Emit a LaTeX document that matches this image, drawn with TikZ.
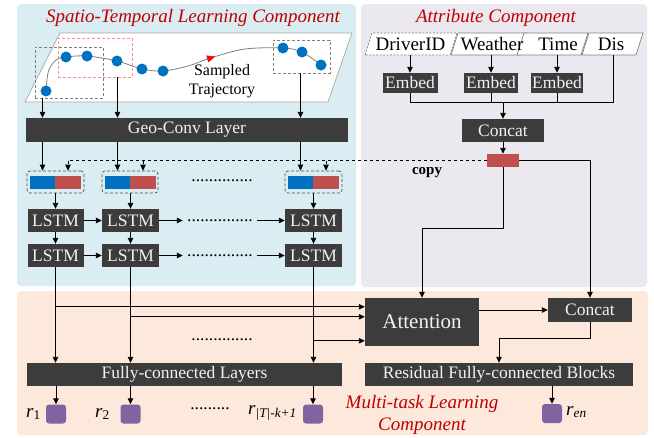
\documentclass[tikz,border=0pt]{standalone}
\usepackage{fontspec}
\setmainfont{Liberation Serif}
\usetikzlibrary{arrows.meta,calc}
\definecolor{bluebg}{HTML}{DAEDF3}
\definecolor{graybg}{HTML}{EBE8F0}
\definecolor{orangebg}{HTML}{FCE9DC}
\definecolor{darkbox}{HTML}{3C3C3C}
\definecolor{tblue}{HTML}{0070C0}
\definecolor{tred}{HTML}{C0504D}
\definecolor{tpurple}{HTML}{8064A2}
\definecolor{ttitle}{HTML}{C00000}
\begin{document}
\begin{tikzpicture}[x=1pt,y=-1pt,
  dbox/.style={fill=darkbox, text=white!95!black, font=\fontsize{17.5}{20}\selectfont, inner sep=0pt, minimum height=23},
  arr/.style={-{Triangle[length=6pt,width=5.5pt]}, line width=0.9pt},
  ln/.style={line width=0.9pt},
  titletxt/.style={text=ttitle, font=\fontsize{19}{22}\selectfont\itshape, inner sep=0pt},
  dot/.style={circle, fill=tblue, inner sep=0pt, minimum size=11},
  gdash/.style={draw=gray, dash pattern=on 3pt off 2pt, line width=0.7pt, inner sep=0pt},
  cell/.style={inner sep=0pt, minimum width=25.5, minimum height=13},
  sq/.style={fill=tpurple, rounded corners=3pt, inner sep=0pt, minimum width=20, minimum height=19},
  rlbl/.style={font=\fontsize{19}{22}\selectfont, inner sep=0pt},
  dots/.style={font=\fontsize{17.5}{20}\selectfont, inner sep=0pt},
  intxt/.style={font=\fontsize{19}{22}\selectfont, inner sep=0pt}
]
\useasboundingbox (0,0) rectangle (654,437);
% panels
\fill[bluebg, rounded corners=4pt] (17,4) rectangle (356,286);
\fill[graybg, rounded corners=4pt] (361,4) rectangle (647,287);
\fill[orangebg, rounded corners=4pt] (17,291) rectangle (648,435);
% titles
\node[titletxt] (t1) at (193,18) {Spatio-Temporal Learning Component};
\node[titletxt] (t2) at (496,18) {Attribute Component};
\node[titletxt, align=center] (t3) at (422,415) {Multi-task Learning\\Component};

% trajectory plane
\draw[gray!70, fill=white, line width=0.7pt] (60,33) -- (352,33) -- (328,102) -- (25,102) -- cycle;
\node[gdash, minimum width=68, minimum height=51] (g1) at (69,72.5) {};
\node[gdash, draw=red!45, minimum width=74, minimum height=39] (g2) at (95,57.5) {};
\node[gdash, minimum width=57, minimum height=33] (g3) at (301.5,56.5) {};
\draw[gray, line width=0.8pt] plot[smooth, tension=0.55] coordinates {(46,91) (48.5,71) (56,60) (66,57) (87,56) (117,61) (142,69) (163,71) (188,66) (212,57.5) (245,49) (283,48) (302,52) (321,65)};
\draw[red, -{Triangle[length=8pt,width=7pt]}, line width=0.6pt] (207,59) -- (215,56.6);
\foreach \i/\p in {1/{(46,91)},2/{(66,57)},3/{(87,56)},4/{(117,61)},5/{(142,69)},6/{(163,71)},7/{(283,48)},8/{(302,52)},9/{(321,65)}}
  \node[dot] (p\i) at \p {};
\node[font=\fontsize{16}{19}\selectfont, align=center, inner sep=0pt] (samp) at (222,81.5) {Sampled\\Trajectory};

% Geo-conv
\node[dbox, minimum width=322, minimum height=24] (geo) at (187,130) {Geo-Conv Layer};

% pair cells
\node[gdash, draw=black!70, rounded corners=3pt, minimum width=57, minimum height=22] (pr1) at (55.5,182) {};
\node[gdash, draw=black!70, rounded corners=3pt, minimum width=56, minimum height=22] (pr2) at (130,182) {};
\node[gdash, draw=black!70, rounded corners=3pt, minimum width=57, minimum height=22] (pr3) at (313.5,182) {};
\node[cell, fill=tblue] (b1) at (42.5,182.5) {};
\node[cell, fill=tred] (c1) at (68,182.5) {};
\node[cell, fill=tblue] (b2) at (117.5,182.5) {};
\node[cell, fill=tred] (c2) at (143,182.5) {};
\node[cell, fill=tblue] (b3) at (300.5,182.5) {};
\node[cell, fill=tred] (c3) at (326,182.5) {};
\node[dots] (dp) at (222,181) {..............};

% arrows plane -> geo -> cells
\draw[arr] (b1 |- g1.south) -- (b1 |- geo.north);
\draw[arr] (b2 |- g2.south) -- (b2 |- geo.north);
\draw[arr] (b3 |- g3.south) -- (b3 |- geo.north);
\draw[arr] (b1 |- geo.south) -- (b1 |- pr1.north);
\draw[arr] (b2 |- geo.south) -- (b2 |- pr2.north);
\draw[arr] (b3 |- geo.south) -- (b3 |- pr3.north);

% LSTMs
\node[dbox, minimum width=56] (l11) at (55.5,220.5) {LSTM};
\node[dbox, minimum width=57] (l12) at (130.5,220.5) {LSTM};
\node[dbox, minimum width=57] (l13) at (313.5,220.5) {LSTM};
\node[dbox, minimum width=56] (l21) at (55.5,255.5) {LSTM};
\node[dbox, minimum width=57] (l22) at (130.5,255.5) {LSTM};
\node[dbox, minimum width=57] (l23) at (313.5,255.5) {LSTM};
\node[dots, minimum width=74] (d1) at (220,220.5) {...............};
\node[dots, minimum width=74] (d2) at (220,255.5) {...............};
\draw[arr] (l11 |- pr1.south) -- (l11.north);
\draw[arr] (l12 |- pr2.south) -- (l12.north);
\draw[arr] (l13 |- pr3.south) -- (l13.north);
\draw[arr] (l11) -- (l21);
\draw[arr] (l12) -- (l22);
\draw[arr] (l13) -- (l23);
\draw[arr] (l11) -- (l12);
\draw[arr] (l21) -- (l22);
\draw[arr] (l12.east) -- (d1.west);
\draw[arr] (l22.east) -- (d2.west);
\draw[arr] (d1.east) -- (l13.west);
\draw[arr] (d2.east) -- (l23.west);

% multi-task part
\node[dbox, minimum width=114, minimum height=48, font=\fontsize{21}{24}\selectfont] (att) at (422,322) {Attention};
\node[dbox, minimum width=84, minimum height=24] (cc2) at (590,310) {Concat};
\node[dbox, minimum width=315] (fc) at (184.5,374.5) {Fully-connected Layers};
\node[dbox, minimum width=268] (res) at (499,374.5) {Residual Fully-connected Blocks};
\node[dots] (dm) at (222,340) {..............};
\draw[arr] (l21) -- (l21 |- fc.north);
\draw[arr] (l22) -- (l22 |- fc.north);
\draw[arr] (l23) -- (l23 |- fc.north);
\draw[arr] ($(l21 |- att.north)+(0,9)$) -- ($(att.north west)+(0,9)$);
\draw[arr] ($(l22 |- att.north)+(0,19)$) -- ($(att.north west)+(0,19)$);
\draw[arr] ($(l23 |- att.north)+(0,43)$) -- ($(att.north west)+(0,43)$);

\node[sq] (s1) at (56,414) {};
\node[sq] (s2) at (130.5,414) {};
\node[sq] (s3) at (313,414) {};
\node[sq] (sen) at (552,413.5) {};
\draw[arr] (s1 |- fc.south) -- (s1.north);
\draw[arr] (s2 |- fc.south) -- (s2.north);
\draw[arr] (s3 |- fc.south) -- (s3.north);
\draw[arr] (sen |- res.south) -- (sen.north);
\node[rlbl, anchor=east] (r1) at (41,414) {\textit{r}\textsubscript{1}};
\node[rlbl, anchor=east] (r2) at (110,414) {\textit{r}\textsubscript{2}};
\node[rlbl, anchor=east] (r3) at (297,413) {\textit{r}\textsubscript{\textit{|T|-k+1}}};
\node[rlbl, anchor=west] (ren) at (566,412) {\textit{r}\textsubscript{\textit{en}}};
\node[dots] (db) at (210,409) {.........};

% attribute part
\draw[gray, fill=white, line width=0.7pt, dash pattern=on 2pt off 1.5pt] (365,55) -- (372,33) -- (457,33) -- (450,55) -- cycle;
\draw[gray, fill=white, line width=0.7pt] (451,55) -- (458,33) -- (527,33) -- (520,55) -- cycle;
\draw[gray, fill=white, line width=0.7pt] (517,55) -- (524,33) -- (588,33) -- (581,55) -- cycle;
\draw[gray, fill=white, line width=0.7pt] (582,55) -- (589,33) -- (643,33) -- (636,55) -- cycle;
\node[intxt] (in1) at (410.5,44) {DriverID};
\node[intxt] (in2) at (492,44) {Weather};
\node[intxt] (in3) at (558,44) {Time};
\node[intxt] (in4) at (611,44) {Dis};
\coordinate (inbot) at (0,55);
\coordinate (jy) at (0,102);
\coordinate (disx) at (613,55);
\node[dbox, minimum width=55, minimum height=20] (e1) at (410,83) {Embed};
\node[dbox, minimum width=54, minimum height=20] (e2) at (491,83) {Embed};
\node[dbox, minimum width=52, minimum height=20] (e3) at (557,83) {Embed};
\node[dbox, minimum width=82] (cc1) at (503,130.5) {Concat};
\node[fill=tred, inner sep=0pt, minimum width=32, minimum height=13] (cp) at (503,160.5) {};
\node[font=\fontsize{15}{18}\selectfont\bfseries, inner sep=0pt] (copytxt) at (427,173) {copy};
\draw[arr] (e1 |- inbot) -- (e1.north);
\draw[arr] (e2 |- inbot) -- (e2.north);
\draw[arr] (e3 |- inbot) -- (e3.north);
\draw[ln] (e1.south) -- (e1 |- jy) -- (disx |- jy) -- (disx);
\draw[ln] (e2.south) -- (e2 |- jy);
\draw[ln] (e3.south) -- (e3 |- jy);
\draw[arr] (cc1 |- jy) -- (cc1.north);
\draw[arr] (cc1) -- (cp);
\draw[ln, dashed] (cp.west) -- (c1 |- cp.west);
\draw[arr, dash pattern=on 3pt off 2pt] (c1 |- cp.west) -- (c1 |- pr1.north);
\draw[arr, dash pattern=on 3pt off 2pt] (c2 |- cp.west) -- (c2 |- pr2.north);
\draw[arr, dash pattern=on 3pt off 2pt] (c3 |- cp.west) -- (c3 |- pr3.north);
\draw[arr] (cp.south) -- ++(0,61) -| (att.north);
\draw[arr] (cp.east) -| (cc2.north);
\draw[arr] (att.east |- cc2.west) -- (cc2.west);
\draw[arr] (cc2.south) -- ++(0,16) -| (res.north);
\end{tikzpicture}
\end{document}
